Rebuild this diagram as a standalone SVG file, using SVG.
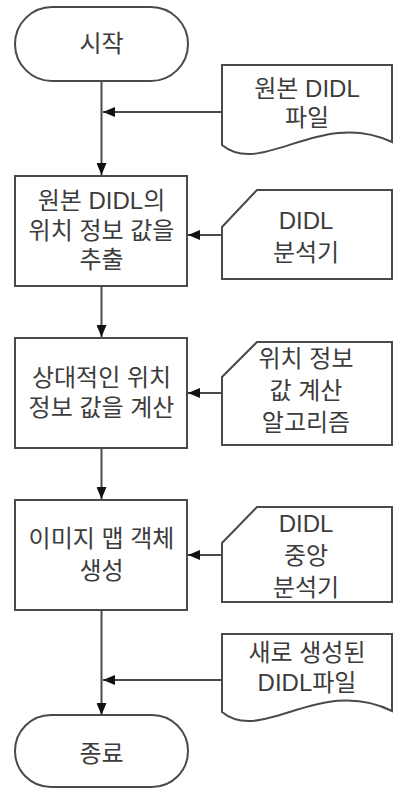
<svg xmlns="http://www.w3.org/2000/svg" width="393" height="788" viewBox="0 0 393 788">
<style>
.s{fill:#fff;stroke:#4a4a4a;stroke-width:2}
.t{font-family:"Liberation Sans","Noto Sans CJK KR",sans-serif;font-size:24px;fill:#3c3c3c;text-anchor:middle}
.c{fill:none;stroke:#4a4a4a;stroke-width:2}
</style>
<defs>
<marker id="ah" viewBox="0 0 12 10" refX="12" refY="5" markerWidth="12" markerHeight="10" markerUnits="userSpaceOnUse" orient="auto">
<path d="M0,0 L12,5 L0,10 Z" fill="#111"/>
</marker>
</defs>
<rect width="393" height="788" fill="#fff"/>
<g id="connectors">
<line class="c" x1="101.5" y1="81" x2="101.5" y2="175" marker-end="url(#ah)"/>
<line class="c" x1="222" y1="112" x2="103" y2="112" marker-end="url(#ah)"/>
<line class="c" x1="101.5" y1="286" x2="101.5" y2="337" marker-end="url(#ah)"/>
<line class="c" x1="222" y1="235" x2="188" y2="235" marker-end="url(#ah)"/>
<line class="c" x1="101.5" y1="448" x2="101.5" y2="499" marker-end="url(#ah)"/>
<line class="c" x1="222" y1="393" x2="188" y2="393" marker-end="url(#ah)"/>
<line class="c" x1="101.5" y1="610" x2="101.5" y2="715" marker-end="url(#ah)"/>
<line class="c" x1="222" y1="555" x2="188" y2="555" marker-end="url(#ah)"/>
<line class="c" x1="222" y1="680" x2="103" y2="680" marker-end="url(#ah)"/>
</g>
<g id="start">
<rect class="s" x="15" y="7" width="173" height="74" rx="37" ry="37"/>
<text class="t" x="101.5" y="52">시작</text>
</g>
<g id="doc1">
<path class="s" d="M222,65 L392,65 L392,142 C320,108 262,178 222,145 Z"/>
<text class="t" x="307" y="97">원본 DIDL</text>
<text class="t" x="307" y="126">파일</text>
</g>
<g id="box1">
<rect class="s" x="15" y="176" width="172" height="110"/>
<text class="t" x="101.5" y="209">원본 DIDL의</text>
<text class="t" x="101.5" y="239">위치 정보 값을</text>
<text class="t" x="101.5" y="268">추출</text>
</g>
<g id="card1">
<path class="s" d="M257,190 L392,190 L392,279 L222,279 L222,227 Z"/>
<text class="t" x="306" y="229">DIDL</text>
<text class="t" x="306" y="261">분석기</text>
</g>
<g id="box2">
<rect class="s" x="15" y="338" width="172" height="110"/>
<text class="t" x="101.5" y="386">상대적인 위치</text>
<text class="t" x="101.5" y="416">정보 값을 계산</text>
</g>
<g id="card2">
<path class="s" d="M257,342 L392,342 L392,445 L222,445 L222,377 Z"/>
<text class="t" x="306" y="367">위치 정보</text>
<text class="t" x="306" y="399">값 계산</text>
<text class="t" x="306" y="431">알고리즘</text>
</g>
<g id="box3">
<rect class="s" x="15" y="500" width="172" height="110"/>
<text class="t" x="101.5" y="547">이미지 맵 객체</text>
<text class="t" x="101.5" y="579">생성</text>
</g>
<g id="card3">
<path class="s" d="M257,507 L392,507 L392,602 L222,602 L222,543 Z"/>
<text class="t" x="306" y="532">DIDL</text>
<text class="t" x="306" y="564">중앙</text>
<text class="t" x="306" y="596">분석기</text>
</g>
<g id="doc2">
<path class="s" d="M222,634 L392,634 L392,711 C320,675 262,745 222,712 Z"/>
<text class="t" x="307" y="661">새로 생성된</text>
<text class="t" x="307" y="691">DIDL파일</text>
</g>
<g id="end">
<rect class="s" x="15" y="715" width="173" height="72" rx="36" ry="36"/>
<text class="t" x="101.5" y="762">종료</text>
</g>
</svg>
